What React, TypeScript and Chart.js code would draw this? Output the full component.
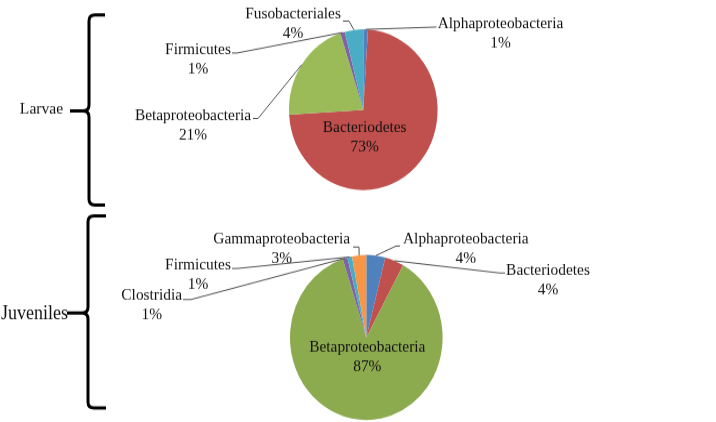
import React, { useEffect, useRef } from 'react';
import { Chart, registerables } from 'chart.js';

Chart.register(...registerables);

// ---------- data ----------
const larvaeCategories = ['Alphaproteobacteria', 'Bacteriodetes', 'Betaproteobacteria', 'Firmicutes', 'Fusobacteriales'];
const larvaeValues = [1, 73, 21, 1, 4];

const juvenileCategories = ['Alphaproteobacteria', 'Bacteriodetes', 'Betaproteobacteria', 'Clostridia', 'Firmicutes', 'Gammaproteobacteria'];
const juvenileValues = [4, 4, 87, 1, 1, 3];

// ---------- styles ----------
const larvaeColors = ['#4F81BD', '#C0504D', '#9BBB59', '#8064A2', '#4BACC6'];
const juvenileColors = ['#4F81BD', '#C0504D', '#8CAA4E', '#8064A2', '#4BACC6', '#F79646'];

const W = 716;
const H_DISPLAY = 422;
const H = 390;
const SY = H_DISPLAY / H; // the picture is slightly stretched vertically
const FONT = '"Liberation Serif", "Times New Roman", serif';
const LINE_GAP = 19.5;

type Lay = { x: number; y: number; path: number[][] | null };

// label layout (display px): text centre x, first baseline y, leader start/elbow
const larvaeLabelLayout: Lay[] = [
  { x: 500.5, y: 28.2, path: [[436.5, 27]] },
  { x: 364.7, y: 131.5, path: null },
  { x: 193, y: 120.5, path: [[253, 118.5], [258, 118.5]] },
  { x: 198, y: 53.8, path: [[232, 53], [237, 53]] },
  { x: 293, y: 18.8, path: [[343, 21], [349, 21]] },
];

const juvenileLabelLayout: Lay[] = [
  { x: 465.8, y: 243.8, path: [[400, 246], [396, 246]] },
  { x: 548, y: 274.8, path: [[505, 273], [500, 273]] },
  { x: 367.3, y: 351.5, path: null },
  { x: 151.7, y: 299.5, path: [[183, 299.5], [191, 299.5]] },
  { x: 198, y: 269.5, path: [[232, 268.5], [237, 268.5]] },
  { x: 281.7, y: 243.8, path: [[353, 247], [359, 247]] },
];

type Brace = { x: number; top: number; bottom: number; mid: number; tipX: number; serifX: number };
type Group = { text: string; x: number; y: number; size: number };

function makeAnnot(layout: Lay[], brace: Brace, group: Group) {
  return {
    id: 'pieAnnot',
    afterDraw(chart: any) {
      const ctx: CanvasRenderingContext2D = chart.ctx;
      const meta = chart.getDatasetMeta(0);
      const values = chart.data.datasets[0].data as number[];
      const labels = chart.data.labels as string[];
      ctx.save();
      // leader lines + labels
      layout.forEach((lay, i) => {
        const arc = meta.data[i];
        const p = arc.getProps(['x', 'y', 'startAngle', 'endAngle', 'outerRadius'], true);
        if (lay.path) {
          const mid = (p.startAngle + p.endAngle) / 2;
          ctx.beginPath();
          ctx.strokeStyle = '#505050';
          ctx.lineWidth = 1;
          ctx.moveTo(lay.path[0][0], lay.path[0][1] / SY);
          for (let k = 1; k < lay.path.length; k++) ctx.lineTo(lay.path[k][0], lay.path[k][1] / SY);
          ctx.lineTo(p.x + Math.cos(mid) * p.outerRadius, p.y + Math.sin(mid) * p.outerRadius);
          ctx.stroke();
        }
        ctx.fillStyle = '#111';
        ctx.font = `15.4px ${FONT}`;
        ctx.textAlign = 'center';
        ctx.textBaseline = 'alphabetic';
        ctx.fillText(labels[i], lay.x, lay.y / SY);
        ctx.fillText(`${values[i]}%`, lay.x, (lay.y + LINE_GAP) / SY);
      });
      // curly brace
      const b = brace;
      const r = 6;
      ctx.beginPath();
      ctx.strokeStyle = '#000';
      ctx.lineWidth = 3;
      ctx.moveTo(b.serifX, b.top / SY);
      ctx.lineTo(b.x + r, b.top / SY);
      ctx.quadraticCurveTo(b.x, b.top / SY, b.x, (b.top + r) / SY);
      ctx.lineTo(b.x, (b.mid - r) / SY);
      ctx.quadraticCurveTo(b.x, b.mid / SY, b.x - r, b.mid / SY);
      ctx.lineTo(b.tipX, b.mid / SY);
      ctx.moveTo(b.x - r, b.mid / SY);
      ctx.quadraticCurveTo(b.x, b.mid / SY, b.x, (b.mid + r) / SY);
      ctx.lineTo(b.x, (b.bottom - r) / SY);
      ctx.quadraticCurveTo(b.x, b.bottom / SY, b.x + r, b.bottom / SY);
      ctx.lineTo(b.serifX, b.bottom / SY);
      ctx.stroke();
      // group label
      ctx.fillStyle = '#111';
      ctx.font = `${group.size}px ${FONT}`;
      ctx.textAlign = 'center';
      ctx.textBaseline = 'alphabetic';
      ctx.fillText(group.text, group.x, group.y / SY);
      ctx.restore();
    },
  };
}

function makePie(
  canvas: HTMLCanvasElement,
  labels: string[],
  values: number[],
  colors: string[],
  padding: { left: number; right: number; top: number; bottom: number },
  plugin: any
) {
  return new Chart(canvas, {
    type: 'pie',
    data: {
      labels,
      datasets: [{ data: values, backgroundColor: colors, borderWidth: 0 }],
    },
    options: {
      responsive: false,
      maintainAspectRatio: false,
      animation: false,
      devicePixelRatio: 1,
      events: [],
      layout: { padding },
      plugins: { legend: { display: false }, tooltip: { enabled: false } },
    },
    plugins: [plugin],
  });
}

export default function App() {
  const topRef = useRef<HTMLCanvasElement>(null);
  const botRef = useRef<HTMLCanvasElement>(null);

  useEffect(() => {
    if (!topRef.current || !botRef.current) return;
    const top = makePie(
      topRef.current,
      larvaeCategories,
      larvaeValues,
      larvaeColors,
      { left: 289, right: 278.4, top: 27.1, bottom: 214.3 },
      makeAnnot(
        larvaeLabelLayout,
        { x: 89, top: 15, bottom: 205, mid: 111, tipX: 70, serifX: 105 },
        { text: 'Larvae', x: 41.5, y: 113.8, size: 15.6 }
      )
    );
    const bot = makePie(
      botRef.current,
      juvenileCategories,
      juvenileValues,
      juvenileColors,
      { left: 290, right: 273.4, top: 235.6, bottom: 1.8 },
      makeAnnot(
        juvenileLabelLayout,
        { x: 88, top: 216, bottom: 408, mid: 313, tipX: 67, serifX: 106 },
        { text: 'Juveniles', x: 34.5, y: 319, size: 18 }
      )
    );
    return () => {
      top.destroy();
      bot.destroy();
    };
  }, []);

  const canvasStyle: React.CSSProperties = {
    position: 'absolute',
    left: 0,
    top: 0,
    width: `${W}px`,
    height: `${H_DISPLAY}px`,
  };

  return (
    <div style={{ position: 'fixed', left: 0, top: 0, width: W, height: H_DISPLAY, background: '#fff' }}>
      <canvas ref={botRef} width={W} height={H} style={canvasStyle} />
      <canvas ref={topRef} width={W} height={H} style={canvasStyle} />
    </div>
  );
}
